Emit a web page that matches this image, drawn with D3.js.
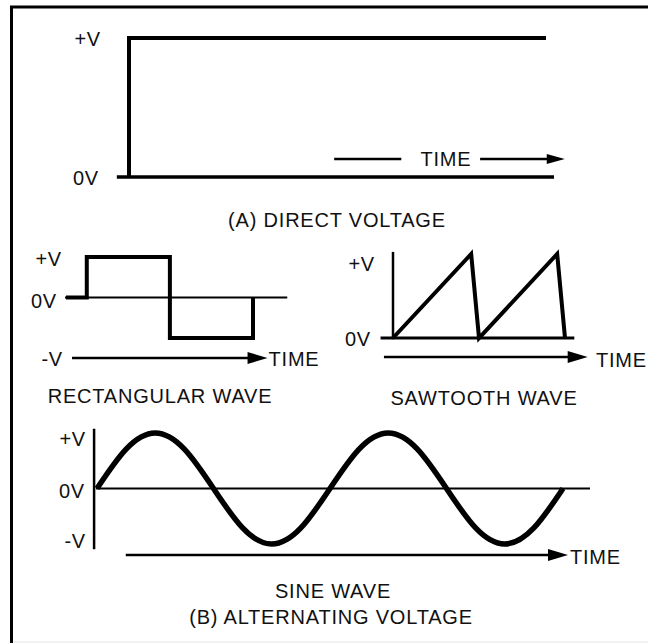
<!DOCTYPE html>
<html lang="en">
<head>
<meta charset="utf-8">
<title>Direct and alternating voltage</title>
<script src="https://d3js.org/d3.v7.min.js"></script>
<style>
  body { margin: 0; background: #fff; }
  text { font-family: "Liberation Sans", Arial, sans-serif; font-size: 20px; letter-spacing: 0.8px; fill: #111; }
</style>
</head>
<body>
<div id="chart"></div>
<script>
// ---- data (time in arbitrary units, voltage in units of V) ----
var dcTime = [0, 0, 10];
var dcVolt = [0, 1, 1];

var rectTime = [0, 1, 1, 5, 5, 9, 9];
var rectVolt = [0, 0, 1, 1, -1, -1, 0];

var sawTime = [0, 10, 11, 21, 22];
var sawVolt = [0, 1, 0, 1, 0];

// sine read at eighth-period steps
var sineTime = [0, 1, 2, 3, 4, 5, 6, 7, 8, 9, 10, 11, 12, 13, 14, 15, 16];
var sineVolt = [0, 0.71, 1, 0.71, 0, -0.71, -1, -0.71, 0, 0.71, 1, 0.71, 0, -0.71, -1, -0.71, 0];

var voltLabels = ["+V", "0V", "-V"];
var captions = ["(A) DIRECT VOLTAGE", "RECTANGULAR WAVE", "SAWTOOTH WAVE", "SINE WAVE", "(B) ALTERNATING VOLTAGE"];

var w = 648, h = 643;

var svg = d3.select("#chart").append("svg")
  .attr("width", w)
  .attr("height", h);

// frame
svg.append("line").attr("x1", 11.5).attr("y1", 6).attr("x2", 11.5).attr("y2", h)
  .attr("stroke", "#000").attr("stroke-width", 3);
svg.append("line").attr("x1", 10).attr("y1", 7).attr("x2", w).attr("y2", 7)
  .attr("stroke", "#000").attr("stroke-width", 3);
svg.append("line").attr("x1", 13).attr("y1", 642).attr("x2", w).attr("y2", 642)
  .attr("stroke", "#e4e4e4").attr("stroke-width", 1);

function seg(x1, y1, x2, y2, sw) {
  svg.append("line")
    .attr("x1", x1).attr("y1", y1).attr("x2", x2).attr("y2", y2)
    .attr("stroke", "#000").attr("stroke-width", sw)
    .attr("stroke-linecap", "square");
}

// arrow ending with a filled head at (x2, y)
function arrow(x1, x2, y, headLen, headW) {
  seg(x1, y, x2 - headLen + 2, y, 2.5);
  svg.append("path")
    .attr("d", "M" + x2 + "," + y + "L" + (x2 - headLen) + "," + (y - headW / 2) +
               "L" + (x2 - headLen) + "," + (y + headW / 2) + "Z")
    .attr("fill", "#000");
}

function label(x, y, s, anchor) {
  svg.append("text").attr("x", x).attr("y", y)
    .attr("text-anchor", anchor || "start")
    .text(s);
}

function wave(xs, ys, tArr, vArr, sw, curve) {
  var line = d3.line()
    .x(function (d, i) { return xs(tArr[i]); })
    .y(function (d, i) { return ys(vArr[i]); })
    .curve(curve || d3.curveLinear);
  svg.append("path")
    .datum(tArr)
    .attr("d", line)
    .attr("fill", "none")
    .attr("stroke", "#000")
    .attr("stroke-width", sw)
    .attr("stroke-linejoin", "miter");
}

// ---- (A) direct voltage ----
var xA = d3.scaleLinear().domain([0, 10]).range([129, 546]);
var yA = d3.scaleLinear().domain([0, 1]).range([177, 38]);

seg(xA(-0.25), yA(0), xA(10.15), yA(0), 3.5);
wave(xA, yA, dcTime, dcVolt, 4);
label(101, yA(1) + 8, voltLabels[0], "end");
label(99, yA(0) + 8, voltLabels[1], "end");
seg(xA(4.95), 159, xA(6.5), 159, 2.5);
label(xA(7.6), 166, "TIME", "middle");
arrow(xA(8.45), xA(10.45), 159, 18, 10);
label(337, 227, captions[0], "middle");

// ---- rectangular wave ----
var xR = d3.scaleLinear().domain([0, 9]).range([66, 253]);
var yR = d3.scaleLinear().domain([-1, 1]).range([338, 257]);

seg(xR(0), yR(0), xR(10.6), yR(0), 2);
wave(xR, yR, rectTime, rectVolt, 4);
label(62, yR(1) + 9, voltLabels[0], "end");
label(57, yR(0) + 10, voltLabels[1], "end");
label(63, 366, voltLabels[2], "end");
arrow(xR(0.35), xR(9.7), 358, 20, 12);
label(xR(9.7) + 1, 366, "TIME");
label(160, 403, captions[1], "middle");

// ---- sawtooth wave ----
var xS = d3.scaleLinear().domain([0, 22]).range([393, 565]);
var yS = d3.scaleLinear().domain([0, 1]).range([338, 254]);

seg(xS(0), yS(0), xS(0), yS(1.01), 2.5);
seg(xS(-1.4), yS(0), xS(23), yS(0), 3);
wave(xS, yS, sawTime, sawVolt, 4);
label(375, 271, voltLabels[0], "end");
label(371, 346, voltLabels[1], "end");
arrow(xS(-1), xS(24.9), 357, 20, 12);
label(596, 367, "TIME");
label(484, 405, captions[2], "middle");

// ---- sine wave ----
var xN = d3.scaleLinear().domain([0, 16]).range([97, 563]);
var yN = d3.scaleLinear().domain([-1, 1]).range([544, 433]);

seg(xN(-0.1), 430, xN(-0.1), 548, 2.5);
seg(xN(0), yN(0), 589, yN(0), 2);
wave(xN, yN, sineTime, sineVolt, 5.5, d3.curveNatural);
label(86, 446, voltLabels[0], "end");
label(85, 498, voltLabels[1], "end");
label(86, 548, voltLabels[2], "end");
arrow(127, 568, 555, 20, 12);
label(570, 564, "TIME");
label(333, 598, captions[3], "middle");
label(331, 624, captions[4], "middle");
</script>
</body>
</html>
